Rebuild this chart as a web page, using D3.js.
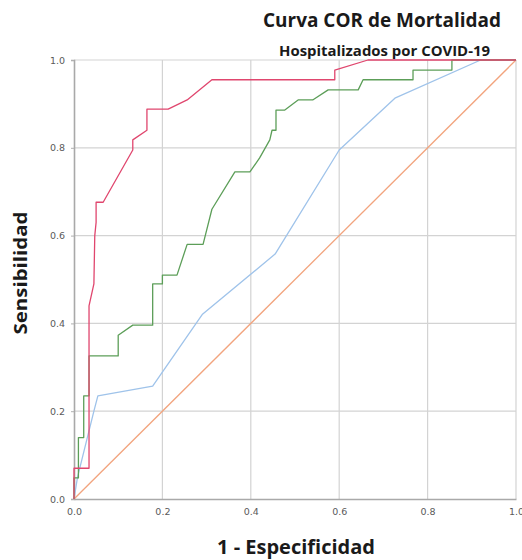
<!DOCTYPE html>
<html>
<head>
<meta charset="utf-8">
<script src="https://cdn.jsdelivr.net/npm/d3@7"></script>
<style>
  html, body { margin: 0; padding: 0; background: #fff; }
  svg { display: block; }
</style>
</head>
<body>
<svg id="chart" width="522" height="560"></svg>
<script>
// ROC curves: [1 - specificity, sensitivity] pairs for each score
const redCurve = [
  [0,0],[0,0.07],[0.034,0.07],[0.034,0.44],[0.045,0.49],[0.047,0.6],[0.05,0.63],
  [0.05,0.676],[0.066,0.676],[0.133,0.795],[0.133,0.818],[0.165,0.84],[0.165,0.888],
  [0.213,0.888],[0.256,0.909],[0.312,0.955],[0.59,0.955],[0.59,0.977],[0.665,1],[1,1]
];
const greenCurve = [
  [0,0],[0,0.048],[0.01,0.048],[0.01,0.14],[0.022,0.14],[0.022,0.235],[0.034,0.235],
  [0.034,0.326],[0.1,0.326],[0.1,0.373],[0.133,0.396],[0.178,0.396],[0.178,0.49],
  [0.2,0.49],[0.2,0.51],[0.233,0.51],[0.256,0.58],[0.292,0.58],[0.312,0.66],
  [0.364,0.745],[0.398,0.745],[0.42,0.777],[0.443,0.818],[0.448,0.84],[0.457,0.84],
  [0.457,0.886],[0.477,0.886],[0.507,0.909],[0.54,0.909],[0.575,0.932],[0.643,0.932],
  [0.654,0.955],[0.767,0.955],[0.767,0.977],[0.855,0.977],[0.855,1],[1,1]
];
const blueCurve = [
  [0,0],[0.008,0.05],[0.045,0.2],[0.054,0.235],[0.178,0.257],[0.29,0.42],
  [0.455,0.558],[0.6,0.795],[0.726,0.913],[0.92,1],[1,1]
];
const referenceLine = [[0,0],[1,1]];

const tickValues = [0, 0.2, 0.4, 0.6, 0.8, 1.0];
const titleText = "Curva COR de Mortalidad";
const subtitleText = "Hospitalizados por COVID-19";
const xLabelText = "1 - Especificidad";
const yLabelText = "Sensibilidad";

const series = [
  { values: referenceLine, color: "#f2a47e" },
  { values: blueCurve, color: "#9fc3ea" },
  { values: greenCurve, color: "#5c9e58" },
  { values: redCurve, color: "#e0466e" }
];

const svg = d3.select("#chart");
const plot = { left: 74, right: 516, top: 60, bottom: 499 };

const x = d3.scaleLinear().domain([0, 1]).range([plot.left, plot.right]);
const y = d3.scaleLinear().domain([0, 1]).range([plot.bottom, plot.top]);

// gridlines
const grid = svg.append("g");
grid.selectAll("line.v").data(tickValues.slice(1)).join("line")
  .attr("x1", d => x(d)).attr("x2", d => x(d))
  .attr("y1", plot.top).attr("y2", plot.bottom)
  .attr("stroke", "#d3d3d3").attr("stroke-width", 1.2);
grid.selectAll("line.h").data(tickValues.slice(1)).join("line")
  .attr("x1", plot.left).attr("x2", plot.right)
  .attr("y1", d => y(d)).attr("y2", d => y(d))
  .attr("stroke", "#d3d3d3").attr("stroke-width", 1.2);

// axes
const fmt = d3.format(".1f");
const xAxis = svg.append("g")
  .attr("transform", `translate(0,${plot.bottom})`)
  .call(d3.axisBottom(x).tickValues(tickValues).tickFormat(fmt).tickSize(0).tickPadding(9));
const yAxis = svg.append("g")
  .attr("transform", `translate(${plot.left},0)`)
  .call(d3.axisLeft(y).tickValues(tickValues).tickFormat(fmt).tickSize(3).tickPadding(6));

[xAxis, yAxis].forEach(a => {
  a.select(".domain").attr("stroke", "#a9a9a9").attr("stroke-width", 1.6);
  a.selectAll(".tick line").attr("stroke", "#b0b0b0");
  a.selectAll(".tick text")
    .attr("fill", "#5a5a5a")
    .style("font-family", "'DejaVu Sans', sans-serif")
    .style("font-size", "9.5px");
});

// curves
const line = d3.line().x(d => x(d[0])).y(d => y(d[1]));
svg.append("g").selectAll("path").data(series).join("path")
  .attr("d", d => line(d.values))
  .attr("fill", "none")
  .attr("stroke", d => d.color)
  .attr("stroke-width", 1.3)
  .attr("stroke-linejoin", "round");

// titles and axis labels
const bold = "'Open Sans', 'DejaVu Sans', sans-serif";
svg.append("text")
  .attr("x", 382).attr("y", 27)
  .attr("text-anchor", "middle")
  .attr("textLength", 238).attr("lengthAdjust", "spacingAndGlyphs")
  .style("font-family", bold).style("font-weight", 700).style("font-size", "19px")
  .attr("fill", "#1a1a1a")
  .text(titleText);
svg.append("text")
  .attr("x", 384.5).attr("y", 56)
  .attr("text-anchor", "middle")
  .attr("textLength", 211).attr("lengthAdjust", "spacingAndGlyphs")
  .style("font-family", bold).style("font-weight", 700).style("font-size", "15px")
  .attr("fill", "#1a1a1a")
  .text(subtitleText);
svg.append("text")
  .attr("x", 296).attr("y", 554)
  .attr("text-anchor", "middle")
  .attr("textLength", 158).attr("lengthAdjust", "spacingAndGlyphs")
  .style("font-family", bold).style("font-weight", 700).style("font-size", "19px")
  .attr("fill", "#1a1a1a")
  .text(xLabelText);
svg.append("text")
  .attr("transform", "translate(27,273) rotate(-90)")
  .attr("text-anchor", "middle")
  .attr("textLength", 123).attr("lengthAdjust", "spacingAndGlyphs")
  .style("font-family", bold).style("font-weight", 700).style("font-size", "17px")
  .attr("fill", "#1a1a1a")
  .text(yLabelText);
</script>
</body>
</html>
